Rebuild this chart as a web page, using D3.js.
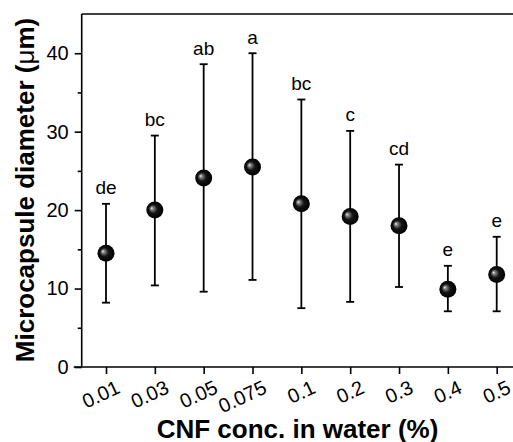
<!DOCTYPE html>
<html><head><meta charset="utf-8">
<script src="https://cdn.jsdelivr.net/npm/d3@7/dist/d3.min.js"></script>
<style>body{margin:0;background:#fff}svg{display:block}text{font-family:"Liberation Sans",Arial,sans-serif}</style>
</head><body>
<script>
const categories = ["0.01","0.03","0.05","0.075","0.1","0.2","0.3","0.4","0.5"];
const means = [14.5, 20.0, 24.1, 25.5, 20.8, 19.2, 18.0, 9.9, 11.8];
const upper = [20.8, 29.5, 38.6, 40.0, 34.1, 30.1, 25.8, 12.9, 16.6];
const lower = [8.2, 10.4, 9.6, 11.1, 7.5, 8.3, 10.2, 7.1, 7.1];
const letters = ["de","bc","ab","a","bc","c","cd","e","e"];
const yMajor = [0,10,20,30,40];
const yMinor = [5,15,25,35];

const W = 513, H = 442;
const svg = d3.select("body").append("svg").attr("width", W).attr("height", H);
const defs = svg.append("defs");
const g = defs.append("radialGradient").attr("id","sph").attr("cx","0.5").attr("cy","0.5").attr("r","0.5").attr("fx","0.3").attr("fy","0.38");
g.append("stop").attr("offset","0").attr("stop-color","#f6f6f6");
g.append("stop").attr("offset","0.16").attr("stop-color","#8a8a8a");
g.append("stop").attr("offset","0.5").attr("stop-color","#151515");
g.append("stop").attr("offset","1").attr("stop-color","#000");

const x = d3.scalePoint().domain(categories).range([106, 496.7]);
const y = d3.scaleLinear().domain([0,45]).range([367, 14]);
const x0 = 81.7;

// frame: top line
svg.append("line").attr("x1", x0).attr("x2", W+5).attr("y1", y(45)).attr("y2", y(45)).attr("stroke","#000").attr("stroke-width",1.6);

// y axis
const yAxis = d3.axisLeft(y).tickValues(yMajor).tickSize(7).tickPadding(6).tickFormat(d3.format("d"));
const ya = svg.append("g").attr("transform",`translate(${x0},0)`).call(yAxis);
ya.select(".domain").attr("stroke-width",1.6).attr("d", `M0,${y(0)}V${y(45)}`);
ya.selectAll(".tick line").attr("stroke-width",1.6);
ya.selectAll(".tick text").attr("font-size",20).attr("fill","#000").attr("font-family","Liberation Sans, Arial, sans-serif");
const yAxisMinor = d3.axisLeft(y).tickValues(yMinor).tickSize(4).tickFormat("");
const ym = svg.append("g").attr("transform",`translate(${x0},0)`).call(yAxisMinor);
ym.select(".domain").remove();
ym.selectAll(".tick line").attr("stroke-width",1.6);

// x axis
const xAxis = d3.axisBottom(x).tickSize(7).tickFormat("");
const xa = svg.append("g").attr("transform",`translate(0,${y(0)})`).call(xAxis);
xa.select(".domain").attr("stroke-width",1.6).attr("d", `M${x0-8},0H${W+5}`);
xa.selectAll(".tick line").attr("stroke-width",1.6);
xa.selectAll(".tick").append("text")
  .attr("transform","translate(12,19) rotate(-25)")
  .attr("text-anchor","end").attr("dominant-baseline","central")
  .attr("font-size",20).attr("fill","#000")
  .text(d => d);

// error bars
const eb = svg.append("g").attr("stroke","#000").attr("stroke-width",1.8);
categories.forEach((c,i) => {
  const cx = x(c);
  eb.append("line").attr("x1",cx).attr("x2",cx).attr("y1",y(lower[i])).attr("y2",y(upper[i]));
  eb.append("line").attr("x1",cx-4).attr("x2",cx+4).attr("y1",y(lower[i])).attr("y2",y(lower[i]));
  eb.append("line").attr("x1",cx-4).attr("x2",cx+4).attr("y1",y(upper[i])).attr("y2",y(upper[i]));
});

// points
svg.append("g").selectAll("circle").data(categories).join("circle")
  .attr("cx", d => x(d)).attr("cy", (d,i) => y(means[i])).attr("r", 8.5)
  .attr("fill","url(#sph)");

// letters
svg.append("g").selectAll("text").data(categories).join("text")
  .attr("x", d => x(d)).attr("y", (d,i) => y(upper[i]) - 9.5)
  .attr("text-anchor","middle").attr("font-size",19).attr("fill","#000")
  .text((d,i) => letters[i]);

// axis titles
const yt = svg.append("text").attr("transform","translate(34,190) rotate(-90)")
  .attr("text-anchor","middle").attr("font-size",26).attr("font-weight","bold").attr("fill","#000");
yt.append("tspan").text("Microcapsule diameter (");
yt.append("tspan").attr("font-weight","normal").text("μ");
yt.append("tspan").text("m)");

svg.append("text").attr("x",297.5).attr("y",437.5).attr("text-anchor","middle")
  .attr("font-size",26).attr("font-weight","bold").attr("fill","#000")
  .text("CNF conc. in water (%)");
</script>
</body></html>
